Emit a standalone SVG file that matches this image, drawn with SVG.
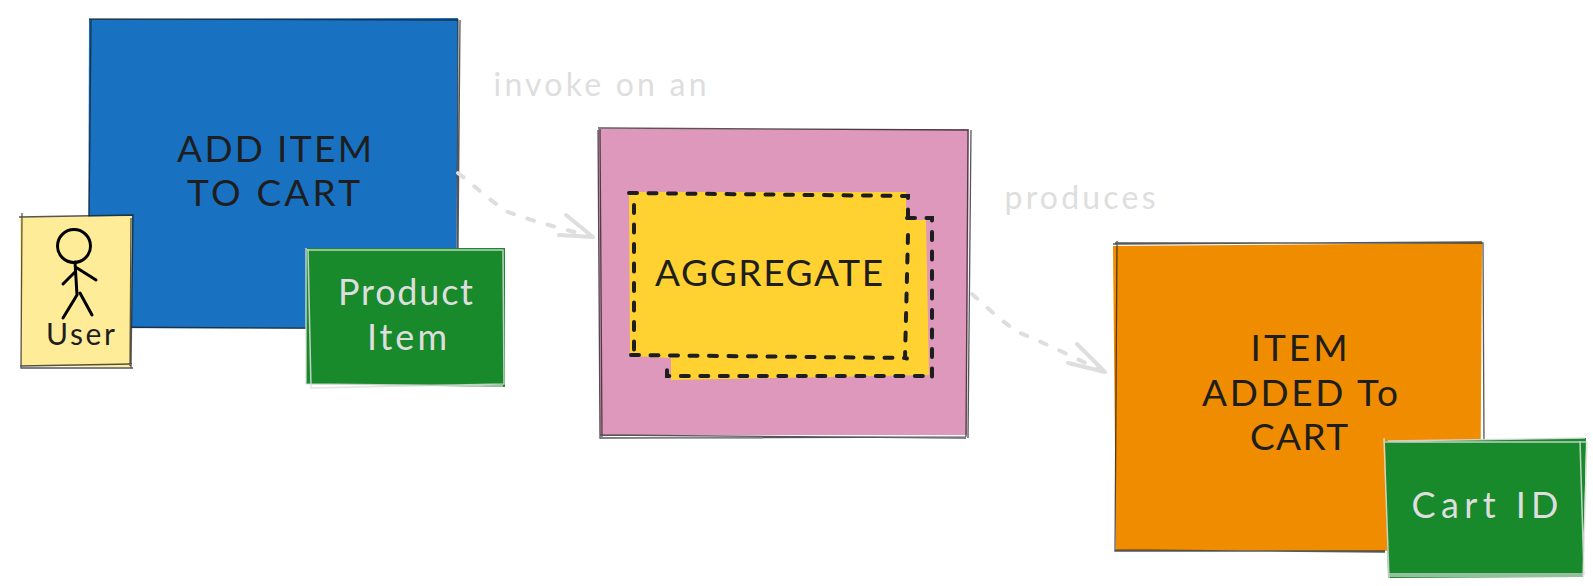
<svg xmlns="http://www.w3.org/2000/svg" width="1593" height="586" viewBox="0 0 1593 586">
<style>
text{font-family:"Lato","Liberation Sans",sans-serif;text-anchor:middle}
.d{fill:#1e1e1e;font-size:37px}
.l{fill:#dedede;font-size:36px}
.g{fill:#dedede;font-size:32px}
.e{fill:none;stroke:#1e1e1e;stroke-width:1.3;opacity:.75}
.w{fill:none;stroke:#dedede;stroke-width:1.5;opacity:.85}
.c{fill:none;stroke:#dedede;stroke-width:4;stroke-linecap:round;stroke-linejoin:round}
.da{stroke-dasharray:7 14}
.y{fill:none;stroke:#1e1e1e;stroke-width:4;stroke-linecap:round;stroke-dasharray:8 11.5}
.s{fill:none;stroke:#000;stroke-width:3;stroke-linecap:round}
</style>
<g id="node-add-item">
<path d="M89 19L458 18L456 329L88 328Z" fill="#1971c2"/>
<path class="e" d="M89 19L458 20L457 328M88 328L91 19M88 327L456 329M460 20L458 248"/>
<text class="d" x="274.500" y="162" textLength="195" lengthAdjust="spacing">ADD ITEM</text>
<text class="d" x="273.500" y="206" textLength="173" lengthAdjust="spacing">TO CART</text>
</g>
<g id="node-user">
<path d="M20 217L132 216L131 367L21 366Z" fill="#ffec99"/>
<path class="e" d="M19 217L133 215L131 368M22 213L21 368L133 368M20 366L132 364M131 218L130 366"/>
<circle class="s" cx="74" cy="246" r="16.500"/>
<path class="s" d="M75 262L77 295M77 268L96 280M75 272L63 284M77 295L63 318M80 293L92 315"/>
<text class="d" style="font-size:30px" x="80.500" y="345" textLength="69" lengthAdjust="spacing">User</text>
</g>
<g id="node-product-item">
<path d="M306 248L505 248L505 387L306 384Z" fill="#188a2b"/>
<path class="w" d="M307 250L503 250L504 384L311 388L308 249M306 248L306 384M306 384L503 386"/>
<text class="l" x="405.500" y="305" textLength="135" lengthAdjust="spacing">Product</text>
<text class="l" x="407" y="350" textLength="80" lengthAdjust="spacing">Item</text>
</g>
<g id="node-aggregate">
<path d="M598 129L969 129L967 435L600 435Z" fill="#dd98bb"/>
<path class="e" d="M598 128L968 130L966 437M600 128L602 437M598 130L600 438L966 437M971 130L968 438M600 435L966 438"/>
<path d="M629 192L906 192L906 220L926 220L929 375L671 380L671 358L630 356Z" fill="#ffd232"/>
<path class="y" d="M629 193L908 196L908 221M907 218L932 218L932 378L930 376L667 376L667 368"/>
<path class="y" d="M634 205L634 354M908 235L905 358L909 359M631 355L906 358"/>
<text class="d" x="769" y="286" textLength="228" lengthAdjust="spacing">AGGREGATE</text>
</g>
<g id="node-item-added">
<path d="M1113 246L1482 243L1480 551L1116 550Z" fill="#f08c00"/>
<path class="e" d="M1115 243L1483 243L1484 442M1117 241L1115 551L1385 551M1115 550L1385 552M1113 244L1482 242"/>
<text class="d" x="1299" y="361" textLength="97" lengthAdjust="spacing">ITEM</text>
<text class="d" x="1300" y="406" textLength="196" lengthAdjust="spacing">ADDED To</text>
<text class="d" x="1299" y="450" textLength="98" lengthAdjust="spacing">CART</text>
</g>
<g id="node-cart-id">
<path d="M1385 441L1586 438L1583 577L1388 578Z" fill="#188a2b"/>
<path class="w" d="M1385 442L1587 442L1583 576L1388 576M1384 438L1389 578M1388 574L1583 574M1580 441L1584 575M1388 441L1585 438"/>
<text class="l" x="1485" y="518" textLength="147" lengthAdjust="spacing">Cart ID</text>
</g>
<g id="edge-labels">
<text class="g" x="600" y="96" textLength="213" lengthAdjust="spacing">invoke on an</text>
<text class="g" x="1080" y="209" textLength="151" lengthAdjust="spacing">produces</text>
</g>
<g id="connectors">
<path class="c da" d="M458 173C475 186 490 201 508 212C530 220 558 228 590 236"/>
<path class="c" d="M566 215L593 237L559 235"/>
<path class="c da" d="M972 294C988 308 1003 323 1020 333C1045 343 1075 358 1102 371"/>
<path class="c" d="M1077 344L1105 372L1068 363"/>
</g>
</svg>
